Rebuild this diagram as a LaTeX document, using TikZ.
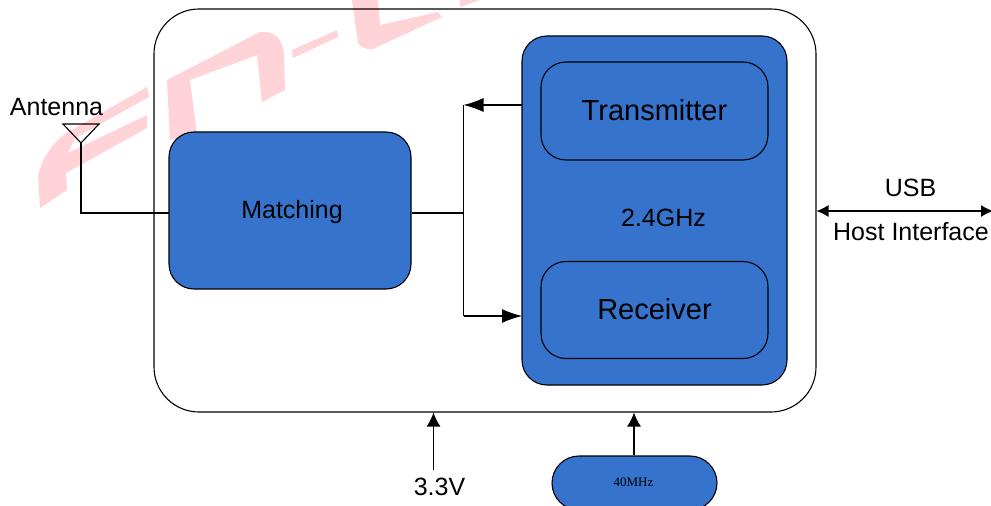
\documentclass[tikz,border=0pt]{standalone}
\usepackage{fontspec}
\setmainfont{Liberation Sans}
\newfontfamily\crystalfont{Liberation Serif}
\usetikzlibrary{arrows.meta}
\definecolor{blockblue}{HTML}{3573CD}
\definecolor{markpink}{HTML}{FFD3D8}
\tikzset{
	blockbox/.style={draw=black, fill=blockblue, rounded corners=25pt, line width=1.1pt, inner sep=0pt},
	bigarrow/.style={-{Latex[length=20pt, width=14pt]}, line width=1.1pt},
	smallarrow/.style={-{Latex[length=14pt, width=14pt]}, line width=1.3pt},
	sizeA/.style={font=\fontsize{25}{25}\selectfont},
	sizeB/.style={font=\fontsize{29}{29}\selectfont}
}
\begin{document}
\begin{tikzpicture}[x=1pt, y=-1pt]
	\useasboundingbox (0, 0) rectangle (991, 506);
	\clip (0, 0) rectangle (991, 506);

	% watermark
	\fill[markpink] (40, 208) -- (38, 175) .. controls (45, 150) and (60, 135) .. (75, 128) -- (147, 87) -- (149, 97) -- (75, 138) -- (68, 153) -- (147, 115) -- (147, 128) -- (66, 173) -- (67, 190) -- cycle;
	\fill[markpink] (167, 80) -- (260, 32) .. controls (275, 30) and (283, 40) .. (284, 55) -- (285, 90) -- (262, 102) -- (257, 55) -- (190, 80) -- (197, 135) -- (170, 140) -- cycle;
	\fill[markpink] (292, 50) -- (337, 30) -- (338, 37) -- (293, 58) -- cycle;
	\fill[markpink] (352, 0) -- (378, 0) -- (380, 25) -- (438, 12) -- (442, 17) -- (373, 49) .. controls (368, 50) and (361, 48) .. (358, 43) -- cycle;
	\fill[markpink] (460, 0) -- (480, 0) -- (460, 7) -- cycle;

	\coordinate (antennaTip) at (81, 143);
	\coordinate (antennaL) at (63, 124);
	\coordinate (antennaR) at (99, 124);
	\coordinate (antennaCorner) at (81, 213);
	\coordinate (busMid) at (463.5, 213);
	\coordinate (busTop) at (463.5, 105);
	\coordinate (busBottom) at (463.5, 316);
	\coordinate (txOut) at (522, 105);
	\coordinate (rxIn) at (522, 316);
	\coordinate (usbEnd) at (993, 211);
	\coordinate (usbIn) at (816.5, 211);
	\coordinate (powerStart) at (433.5, 470);
	\coordinate (powerIn) at (433.5, 412.5);
	\coordinate (clockIn) at (634, 412.5);

	\node[draw=black, rounded corners=45pt, line width=1.1pt, minimum width=662pt, minimum height=403pt, inner sep=0pt] (module) at (485, 210.5) {};

	\draw[line width=1.1pt] (antennaL) -- (antennaR) -- (antennaTip) -- cycle;
	\draw[line width=1.1pt] (antennaTip) -- (antennaCorner) -- (169, 213);

	\node[blockbox, minimum width=242pt, minimum height=157pt] (matching) at (290, 210.5) {};
	\node[blockbox, minimum width=265pt, minimum height=349pt] (radio) at (654.5, 210.5) {};
	\node[blockbox, minimum width=227pt, minimum height=98pt] (transmitter) at (654.5, 111) {};
	\node[blockbox, minimum width=227pt, minimum height=97pt] (receiver) at (654.5, 310) {};
	\node[blockbox, rounded corners=27pt, minimum width=165pt, minimum height=54pt] (crystal) at (634.5, 483) {};

	\node[sizeA] (matchingText) at (292, 212) {Matching};
	\node[sizeB] (transmitterText) at (654.5, 110) {Transmitter};
	\node[sizeB] (receiverText) at (654.5, 309) {Receiver};
	\node[sizeA] (radioText) at (663.5, 218) {2.4GHz};
	\node[font=\crystalfont\fontsize{13}{13}\selectfont] (crystalText) at (633.5, 482) {40MHz};
	\node[sizeA] (antennaText) at (56.5, 107) {Antenna};
	\node[sizeA] (usbText) at (910.5, 188) {USB};
	\node[sizeA] (hostText) at (911, 232) {Host Interface};
	\node[sizeA] (powerText) at (439.5, 487) {3.3V};

	\draw[line width=1.1pt] (matching.east |- busMid) -- (busMid);
	\draw[line width=1.1pt] (busTop) -- (busBottom);
	\draw[bigarrow] (txOut) -- (busTop);
	\draw[bigarrow] (busBottom) -- (rxIn);
	\draw[{Latex[length=12pt, width=12pt]}-{Latex[length=12pt, width=12pt]}, line width=1.1pt] (usbIn) -- (usbEnd);
	\draw[smallarrow] (powerStart) -- (powerIn);
	\draw[smallarrow] (crystal.north -| clockIn) -- (clockIn);
\end{tikzpicture}
\end{document}
